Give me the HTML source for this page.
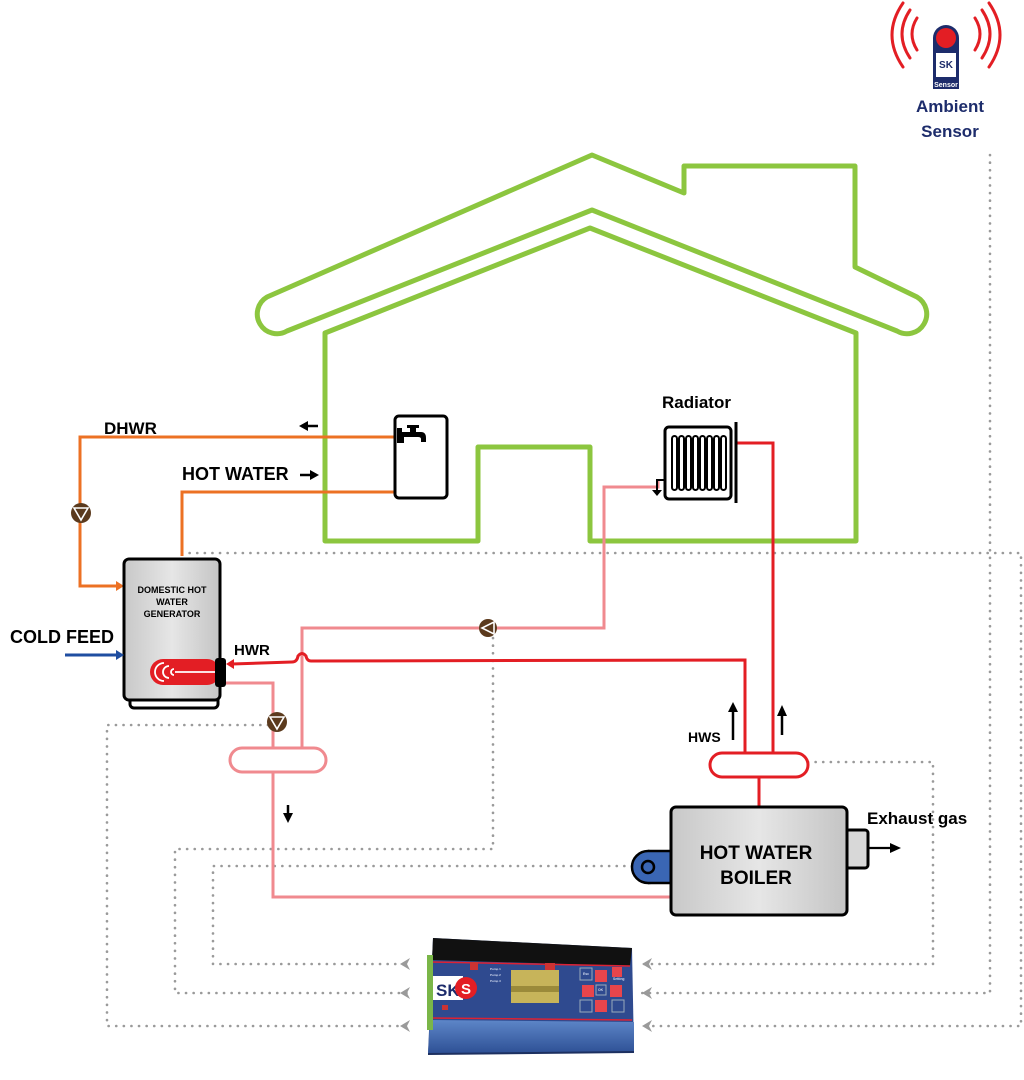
<!DOCTYPE html>
<html><head><meta charset="utf-8"><style>
html,body{margin:0;padding:0;background:#fff;}
svg{display:block;}
text{font-family:"Liberation Sans",Arial,sans-serif;font-weight:bold;}
</style></head><body>
<svg width="1024" height="1080" viewBox="0 0 1024 1080" xmlns="http://www.w3.org/2000/svg">
<defs>
<linearGradient id="gr" x1="0" x2="1"><stop offset="0" stop-color="#c8c8c8"/><stop offset="0.5" stop-color="#e6e6e6"/><stop offset="1" stop-color="#c4c4c4"/></linearGradient>
<linearGradient id="cb" x1="0" y1="0" x2="0" y2="1"><stop offset="0" stop-color="#5d86c8"/><stop offset="1" stop-color="#2d4f94"/></linearGradient>
</defs>

<g fill="none" stroke="#9a9a9a" stroke-width="2.6" stroke-linecap="round" stroke-dasharray="0.1 7.5">
<polyline points="182,553 1021,553 1021,1026 642,1026"/>
<polyline points="990,155 990,993 642,993"/>
<polyline points="808,762 933,762 933,964 642,964"/>
<polyline points="268,725 107,725 107,1026 408,1026"/>
<polyline points="493,638 493,849 175,849 175,993 408,993"/>
<polyline points="632,866 213,866 213,964 408,964"/>
</g>
<g fill="#9a9a9a">
<path d="M400,964 l10,-6 l-3,6 l3,6 z"/><path d="M400,993 l10,-6 l-3,6 l3,6 z"/><path d="M400,1026 l10,-6 l-3,6 l3,6 z"/>
<path d="M642,964 l10,-6 l-3,6 l3,6 z"/><path d="M642,993 l10,-6 l-3,6 l3,6 z"/><path d="M642,1026 l10,-6 l-3,6 l3,6 z"/>
</g>

<g fill="none" stroke="#8cc63f" stroke-width="5" stroke-linejoin="round">
<path d="M592,155 L684,193 L684,166 L855,166 L855,267 L917,297 A19,19 0 0 1 897,331 L592,210 L287,331 A19,19 0 0 1 267,297 Z"/>
<path d="M590,228 L325,333 L325,541 L478,541 L478,447 L590,447 L590,541 L856,541 L856,333 Z"/>
</g>

<g fill="none" stroke="#ec7124" stroke-width="3">
<polyline points="395,437 80,437 80,586 118,586"/>
<polyline points="395,492 182,492 182,556"/>
</g>
<path d="M116,581 L124,586 L116,591 Z" fill="#ec7124"/>
<rect x="395" y="416" width="52" height="82" rx="4" fill="#fff" stroke="#000" stroke-width="3"/>
<path d="M397,428 h5 v4 h8 v-4 h-3 v-3 h12 v3 h-3 v4 h5 q5,0 5,6 v4 h-5 v-3 q0,-2 -3,-2 h-14 v6 h-7 z" fill="#000"/>
<g><circle cx="81" cy="513" r="10" fill="#5b3a1d"/><path d="M74,508 L88,508 L81,520 Z" fill="none" stroke="#fff" stroke-width="1.6"/></g>

<text x="104" y="434" font-size="17">DHWR</text>
<text x="182" y="480" font-size="18">HOT WATER</text>
<line x1="318" y1="426" x2="306" y2="426" stroke="#000" stroke-width="2.5"/><path d="M308,421 L299,426 L308,431 Z"/>
<line x1="300" y1="475" x2="312" y2="475" stroke="#000" stroke-width="2.5"/><path d="M310,470 L319,475 L310,480 Z"/>

<rect x="130" y="697" width="88" height="11" rx="4" fill="#fff" stroke="#000" stroke-width="3"/>
<rect x="124" y="559" width="96" height="141" rx="5" fill="url(#gr)" stroke="#000" stroke-width="3"/>
<text x="172" y="593" font-size="9" text-anchor="middle">DOMESTIC HOT</text>
<text x="172" y="605" font-size="9" text-anchor="middle">WATER</text>
<text x="172" y="617" font-size="9" text-anchor="middle">GENERATOR</text>
<rect x="150" y="659" width="70" height="26" rx="13" fill="#e31e24"/>
<path d="M164,663 a9,9 0 0 0 0,18 M169,666 a6,6 0 0 0 0,12 M174,669 a3,3 0 0 0 0,6" fill="none" stroke="#fff" stroke-width="1.8"/>
<line x1="175" y1="672" x2="215" y2="672" stroke="#fff" stroke-width="1.8"/>
<rect x="215" y="658" width="11" height="29" rx="3" fill="#000"/>
<text x="10" y="643" font-size="18">COLD FEED</text>
<line x1="65" y1="655" x2="118" y2="655" stroke="#1f4ea1" stroke-width="3"/>
<path d="M116,650 L124,655 L116,660 Z" fill="#1f4ea1"/>

<g fill="none" stroke="#f08a8f" stroke-width="3">
<polyline points="226,683 273,683 273,748"/>
<polyline points="302,748 302,628 604,628 604,487 658,487 658,480"/>
<polyline points="273,772 273,897 670,897"/>
<rect x="230" y="748" width="96" height="24" rx="12"/>
</g>
<g><circle cx="277" cy="722" r="10" fill="#5b3a1d"/><path d="M270,717 L284,717 L277,729 Z" fill="none" stroke="#fff" stroke-width="1.6"/></g>
<g><circle cx="488" cy="628" r="9" fill="#5b3a1d"/><path d="M494,622 L494,634 L482,628 Z" fill="none" stroke="#fff" stroke-width="1.6"/></g>
<line x1="288" y1="805" x2="288" y2="815" stroke="#000" stroke-width="2.5"/><path d="M283,813 L288,823 L293,813 Z"/>

<g fill="none" stroke="#e31e24" stroke-width="3">
<path d="M745,753 L745,660 L311,661 Q307,661 306,656 Q302,651 298,656 Q297,662 292,662 L232,664"/>
<polyline points="737,443 773,443 773,753"/>
<line x1="759" y1="777" x2="759" y2="807"/>
<rect x="710" y="753" width="98" height="24" rx="12"/>
</g>
<path d="M234,659 L226,664 L234,669 Z" fill="#e31e24"/>
<text x="234" y="655" font-size="15">HWR</text>
<text x="688" y="742" font-size="14">HWS</text>
<line x1="733" y1="740" x2="733" y2="710" stroke="#000" stroke-width="2.5"/><path d="M728,712 L733,702 L738,712 Z"/>
<line x1="782" y1="735" x2="782" y2="714" stroke="#000" stroke-width="2.5"/><path d="M777,716 L782,705 L787,716 Z"/>

<text x="662" y="408" font-size="17">Radiator</text>
<rect x="665" y="427" width="66" height="72" rx="4" fill="#fff" stroke="#000" stroke-width="3"/>
<g fill="none" stroke="#000" stroke-width="2">
<rect x="672" y="436" width="5" height="54" rx="2.5"/><rect x="679" y="436" width="5" height="54" rx="2.5"/><rect x="686" y="436" width="5" height="54" rx="2.5"/><rect x="693" y="436" width="5" height="54" rx="2.5"/><rect x="700" y="436" width="5" height="54" rx="2.5"/><rect x="707" y="436" width="5" height="54" rx="2.5"/><rect x="714" y="436" width="5" height="54" rx="2.5"/><rect x="721" y="436" width="5" height="54" rx="2.5"/>
</g>
<line x1="736" y1="422" x2="736" y2="503" stroke="#000" stroke-width="3"/>
<path d="M665,480 h-8 v10" fill="none" stroke="#000" stroke-width="2"/>
<path d="M652,490 h10 l-5,6 z" fill="#000"/>

<circle cx="648" cy="867" r="16" fill="#3a66b4" stroke="#000" stroke-width="2.5"/>
<path d="M648,851 L672,851 L672,883 L648,883" fill="#3a66b4" stroke="#000" stroke-width="2.5"/>
<circle cx="648" cy="867" r="6" fill="none" stroke="#000" stroke-width="2.5"/>
<rect x="846" y="830" width="22" height="38" rx="3" fill="#d8d8d8" stroke="#000" stroke-width="3"/>
<rect x="671" y="807" width="176" height="108" rx="5" fill="url(#gr)" stroke="#000" stroke-width="3"/>
<text x="756" y="859" font-size="19" text-anchor="middle">HOT WATER</text>
<text x="756" y="884" font-size="19" text-anchor="middle">BOILER</text>
<line x1="868" y1="848" x2="893" y2="848" stroke="#000" stroke-width="2.2"/>
<path d="M890,843 L901,848 L890,853 Z"/>
<text x="867" y="824" font-size="17">Exhaust gas</text>

<!-- controller -->
<path d="M433,938 L632,948 L634,1052 L428,1054 Z" fill="#2f4a8f"/>
<path d="M433,938 L632,948 L630,966 L432,960 Z" fill="#111"/>
<path d="M430,1020 L634,1022 L634,1052 L428,1054 Z" fill="url(#cb)"/>
<line x1="428" y1="1054" x2="634" y2="1052" stroke="#1d3060" stroke-width="2"/>
<line x1="432" y1="962" x2="630" y2="966" stroke="#d23" stroke-width="1.5"/>
<line x1="430" y1="1018" x2="632" y2="1020" stroke="#d23" stroke-width="1.5"/>
<rect x="427" y="955" width="6" height="75" fill="#7ab648"/>
<rect x="433" y="976" width="30" height="24" fill="#fff"/>
<text x="436" y="996" font-size="17" fill="#1d2c6b" font-family="Liberation Serif">SK</text>
<circle cx="466" cy="988" r="11" fill="#e31e24"/><text x="461" y="994" font-size="15" fill="#fff" font-family="Liberation Serif">S</text>
<g fill="#c33"><rect x="442" y="1005" width="6" height="5"/><rect x="470" y="962" width="8" height="8"/><rect x="545" y="963" width="10" height="8"/></g>
<g fill="#cfd8ee" font-size="3" font-weight="normal"><text x="490" y="970">Pump 1</text><text x="490" y="976">Pump 2</text><text x="490" y="982">Pump 3</text></g>
<rect x="511" y="970" width="48" height="33" fill="#c7b45a"/>
<rect x="511" y="986" width="48" height="6" fill="#9b8a3a"/>
<g fill="#e8454c"><rect x="595" y="970" width="12" height="12"/><rect x="582" y="985" width="12" height="12"/><rect x="610" y="985" width="12" height="12"/><rect x="595" y="1000" width="12" height="12"/><rect x="612" y="967" width="10" height="10"/></g>
<g fill="none" stroke="#9ab" stroke-width="1"><rect x="580" y="968" width="12" height="12"/><rect x="596" y="985" width="10" height="10"/><rect x="580" y="1000" width="12" height="12"/><rect x="612" y="1000" width="12" height="12"/></g>
<g fill="#cfd8ee" font-size="3.4" font-weight="normal"><text x="583" y="975">Esc</text><text x="598" y="991">OK</text><text x="613" y="980">Setting</text></g>

<!-- sensor -->
<g fill="none" stroke="#e31e24" stroke-width="3" stroke-linecap="round">
<path d="M917,18 q-10,16 0,32"/><path d="M910,10 q-16,24 0,48"/><path d="M903,3 q-22,32 0,64"/>
<path d="M975,18 q10,16 0,32"/><path d="M982,10 q16,24 0,48"/><path d="M989,3 q22,32 0,64"/>
</g>
<path d="M933,89 L933,38 a13,13 0 0 1 26,0 L959,89 Z" fill="#1d2c6b"/>
<circle cx="946" cy="38" r="10" fill="#e31e24"/>
<rect x="936" y="53" width="20" height="24" fill="#fff"/>
<text x="946" y="68" font-size="10" fill="#1d2c6b" text-anchor="middle" font-family="Liberation Serif">SK</text>
<text x="946" y="87" font-size="7" fill="#fff" text-anchor="middle" font-weight="normal">Sensor</text>
<text x="950" y="112" font-size="17" fill="#1d2c6b" text-anchor="middle">Ambient</text>
<text x="950" y="137" font-size="17" fill="#1d2c6b" text-anchor="middle">Sensor</text>
</svg>
</body></html>
